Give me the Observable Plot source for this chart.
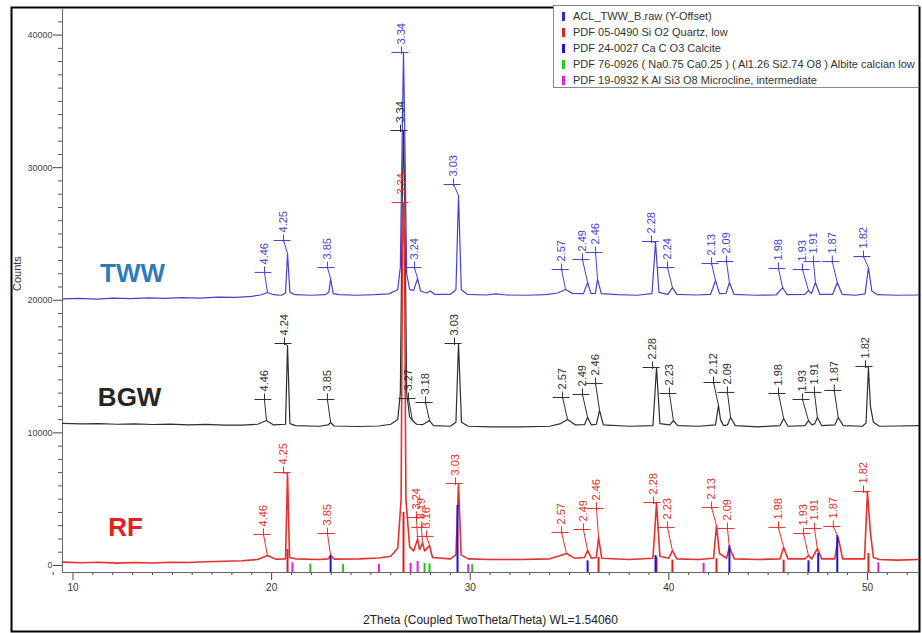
<!DOCTYPE html>
<html>
<head>
<meta charset="utf-8">
<script src="https://cdn.jsdelivr.net/npm/d3@7"></script>
<script src="https://cdn.jsdelivr.net/npm/@observablehq/plot@0.6"></script>
<style>
  body { margin: 0; background: #fff; }
  #wrap { position: relative; width: 922px; height: 633px; font-family: "Liberation Sans", Arial, sans-serif; }
  #legend { position: absolute; left: 553px; top: 5px; width: 366px; height: 83px; border: 1px solid #8a8a8a; background: #fff; font-size: 11px; color: #333; padding-top: 2px; box-sizing: border-box; overflow: hidden; }
  #legend .row { position: relative; height: 16px; line-height: 16px; padding-left: 19px; white-space: nowrap; }
  #legend .sw { position: absolute; left: 8px; top: 4px; width: 3px; height: 9px; }
</style>
</head>
<body>
<div id="wrap">
  <div id="chart"></div>
  <div id="legend"></div>
</div>
<script>
// ---------- scales / ticks ----------
const xDomain = [9.47, 52.57];
const yDomain = [-530, 41930];
const xMajor = [10, 20, 30, 40, 50];
const xMinor = [9, 11, 12, 13, 14, 15, 16, 17, 18, 19, 21, 22, 23, 24, 25, 26, 27, 28, 29, 31, 32, 33, 34, 35, 36, 37, 38, 39, 41, 42, 43, 44, 45, 46, 47, 48, 49, 51, 52];
const yMajor = [0, 10000, 20000, 30000, 40000];
const yMinor = d3.range(0, 42000, 1000).filter(v => v % 10000 !== 0);

// ---------- legend ----------
const legendNames = [
  "ACL_TWW_B.raw (Y-Offset)",
  "PDF 05-0490 Si O2 Quartz, low",
  "PDF 24-0027 Ca C O3 Calcite",
  "PDF 76-0926 ( Na0.75 Ca0.25 ) ( Al1.26 Si2.74 O8 ) Albite calcian low",
  "PDF 19-0932 K Al Si3 O8 Microcline, intermediate"
];
const legendColors = ["#2b2bd6", "#e0201c", "#1414e6", "#22d022", "#e020e0"];

// ---------- sample names ----------
const sampleNames = ["TWW", "BGW", "RF"];
const sampleX = [13.0, 12.85, 12.64];
const sampleY = [22020, 12670, 2870];
const sampleColors = ["#2f7cbc", "#262626", "#e5201c"];

// ---------- traces [2theta, counts] ----------
const twwTrace = [[9.47,20100],[10.3,20150],[11.2,20080],[12.0,20160],[12.9,20120],[13.8,20180],[14.6,20140],[15.5,20200],[16.4,20170],[17.3,20240],[18.2,20220],[19.0,20300],[19.45,20400],[19.79,20590],[20.1,20420],[20.5,20380],[20.7,20550],[20.8,23530],[20.92,20600],[21.2,20420],[22.0,20380],[22.7,20420],[22.88,20600],[22.97,21640],[23.1,20500],[23.4,20420],[24.3,20380],[25.2,20420],[25.9,20480],[26.35,20800],[26.48,22500],[26.58,33000],[26.64,38690],[26.7,33000],[26.8,22000],[26.95,20800],[27.15,20750],[27.35,21640],[27.5,20700],[27.8,20550],[28.0,20700],[28.2,20450],[29.0,20450],[29.28,20800],[29.41,27900],[29.55,20800],[29.85,20450],[30.8,20400],[31.3,20480],[31.8,20400],[32.8,20380],[33.8,20420],[34.4,20550],[34.8,20810],[35.15,20520],[35.7,20500],[35.91,21340],[36.08,20500],[36.3,20520],[36.41,21570],[36.6,20500],[37.4,20420],[38.4,20380],[39.15,20500],[39.33,24360],[39.5,20600],[39.95,20450],[40.18,20960],[40.4,20450],[41.4,20400],[42.1,20450],[42.35,21490],[42.55,20500],[42.88,20520],[43.05,21340],[43.28,20450],[44.4,20380],[45.4,20400],[45.73,20960],[45.95,20420],[46.85,20450],[47.03,20740],[47.18,20500],[47.38,21340],[47.6,20450],[48.25,20450],[48.48,21340],[48.72,20450],[49.4,20380],[49.88,20480],[50.05,22470],[50.22,20700],[50.5,20420],[51.5,20380],[52.57,20400]];

const bgwTrace = [[9.47,10720],[10.4,10680],[11.3,10700],[12.2,10650],[13.1,10680],[14.0,10630],[14.9,10660],[15.8,10610],[16.7,10640],[17.6,10590],[18.5,10580],[19.3,10650],[19.74,10930],[20.1,10600],[20.7,10650],[20.8,16590],[20.92,10700],[21.2,10550],[22.4,10500],[22.85,10600],[22.97,10780],[23.15,10520],[24.4,10480],[25.4,10520],[26.0,10650],[26.35,11000],[26.48,13000],[26.58,28000],[26.64,32800],[26.7,28000],[26.8,13000],[26.95,11200],[27.09,10930],[27.3,10650],[27.6,10620],[27.95,10930],[28.15,10550],[29.0,10500],[29.28,10800],[29.41,16740],[29.56,10800],[29.9,10500],[31.0,10450],[32.5,10460],[34.0,10500],[34.55,10700],[34.9,11010],[35.3,10600],[35.75,10620],[35.91,11160],[36.1,10600],[36.35,10650],[36.51,11690],[36.7,10600],[38.0,10500],[39.2,10550],[39.38,14930],[39.55,10700],[40.05,10600],[40.23,10930],[40.45,10550],[41.5,10500],[42.35,10600],[42.5,12070],[42.6,11000],[42.75,10550],[42.95,10600],[43.11,11160],[43.35,10550],[44.5,10460],[45.6,10550],[45.78,11090],[46.0,10500],[46.85,10550],[47.03,10930],[47.2,10600],[47.35,10700],[47.48,11160],[47.7,10550],[48.35,10600],[48.53,11160],[48.78,10550],[49.75,10500],[49.93,10750],[50.05,14930],[50.15,12000],[50.3,10800],[50.6,10500],[51.5,10520],[52.57,10540]];

const rfTrace = [[9.47,250],[10.4,200],[11.3,240],[12.2,180],[13.1,220],[14.0,190],[14.9,240],[15.8,220],[16.7,280],[17.6,320],[18.5,360],[19.3,450],[19.79,750],[20.2,480],[20.7,500],[20.8,6940],[20.9,600],[21.2,500],[22.4,450],[22.85,500],[22.97,750],[23.15,480],[24.4,500],[25.4,560],[26.0,700],[26.35,1300],[26.52,5000],[26.59,24000],[26.64,27370],[26.69,24000],[26.76,5000],[26.95,1400],[27.15,1100],[27.35,2000],[27.45,1200],[27.6,1700],[27.7,1100],[27.95,1500],[28.1,600],[29.0,500],[29.28,800],[29.41,6180],[29.54,800],[29.9,500],[31.0,450],[32.5,450],[34.0,500],[34.55,750],[34.85,900],[35.25,550],[35.75,600],[35.91,1130],[36.1,550],[36.35,600],[36.46,2110],[36.62,550],[38.0,450],[39.2,550],[39.38,4680],[39.55,700],[40.0,550],[40.18,1130],[40.4,500],[41.5,450],[42.25,550],[42.4,3000],[42.55,900],[42.9,550],[43.05,1360],[43.3,500],[44.5,450],[45.6,500],[45.78,1360],[46.0,500],[46.85,500],[47.03,750],[47.2,500],[47.48,1280],[47.7,500],[48.35,500],[48.53,2110],[48.75,500],[49.85,500],[50.0,5500],[50.15,2500],[50.3,600],[50.6,450],[51.5,400],[52.57,450]];

// ---------- peak labels [d-spacing, peak 2theta, peak counts, label 2theta, label counts] ----------
const twwLabels = [["4.46",19.79,20590,19.64,22100],["4.25",20.8,23530,20.6,24510],["3.85",22.97,21640,22.81,22470],["3.34",26.64,38690,26.54,38690],["3.24",27.35,21640,27.19,22470],["3.03",29.41,27900,29.16,28730],["2.57",34.8,20810,34.6,22320],["2.49",35.91,21340,35.65,23080],["2.46",36.41,21570,36.31,23600],["2.28",39.33,24360,39.13,24430],["2.24",40.18,20960,39.93,22470],["2.13",42.35,21490,42.15,22770],["2.09",43.05,21340,42.9,22920],["1.98",45.73,20960,45.52,22400],["1.93",47.03,20740,46.73,22320],["1.91",47.38,21340,47.28,22920],["1.87",48.48,21340,48.23,22920],["1.82",50.05,22470,49.8,23300]];

const bgwLabels = [["4.46",19.74,10930,19.64,12520],["4.24",20.8,16590,20.65,16740],["3.85",22.97,10780,22.81,12520],["3.34",26.64,32800,26.49,32800],["3.27",27.09,10930,26.89,12590],["3.18",27.95,10930,27.75,12290],["3.03",29.41,16740,29.21,16740],["2.57",34.9,11010,34.65,12670],["2.49",35.91,11160,35.65,12900],["2.46",36.51,11690,36.31,13720],["2.28",39.38,14930,39.18,14930],["2.23",40.23,10930,40.03,12970],["2.12",42.5,12070,42.25,13800],["2.09",43.11,11160,42.95,13050],["1.98",45.78,11090,45.52,12970],["1.93",47.03,10930,46.73,12520],["1.91",47.48,11160,47.33,13050],["1.87",48.53,11160,48.33,13200],["1.82",50.05,14930,49.9,15010]];

const rfLabels = [["4.46",19.79,750,19.59,2340],["4.25",20.8,6940,20.6,7010],["3.85",22.97,750,22.81,2410],["3.34",26.64,27370,26.54,27370],["3.24",27.35,2000,27.29,3620],["3.19",27.6,1700,27.54,2870],["3.16",27.95,1500,27.8,2190],["3.03",29.41,6180,29.26,6180],["2.57",34.85,900,34.6,2490],["2.49",35.91,1130,35.7,2710],["2.46",36.46,2110,36.36,4300],["2.28",39.38,4680,39.23,4750],["2.23",40.18,1130,39.93,2870],["2.13",42.4,3000,42.15,4370],["2.09",43.05,1360,42.95,2790],["1.98",45.78,1360,45.52,2870],["1.93",47.03,750,46.78,2410],["1.91",47.48,1280,47.33,2790],["1.87",48.53,2110,48.28,2940],["1.82",50.0,5500,49.8,5580]];

// ---------- reference sticks [2theta, counts] ----------
const quartzSticks = [[20.8,1200],[26.64,4000],[36.46,600],[39.38,600],[40.18,400],[42.4,500],[45.78,400],[50.05,900]];
const calciteSticks = [[22.97,750],[29.36,4530],[35.91,350],[39.33,750],[43.05,1500],[47.03,350],[47.52,900],[48.48,2260]];
const albiteSticks = [[21.95,100],[23.6,60],[27.7,150],[27.95,120],[30.1,60]];
const microclineSticks = [[21.05,200],[25.4,80],[27.0,150],[27.35,300],[29.9,60],[41.75,150],[50.55,200]];

// ---------- colours ----------
const twwColor = "#4343d2";
const bgwColor = "#2e2e2e";
const rfColor = "#e8302c";

// custom symbol: EVA-style peak marker (bar + tick)
const peakMarker = {
  draw(ctx) {
    ctx.moveTo(-10, 0); ctx.lineTo(7, 0);
    ctx.moveTo(0, 1.5); ctx.lineTo(0, -6);
  }
};

function labelMarks(rows, color) {
  return [
    Plot.link(rows, {x1: d => d[3], y1: d => d[4], x2: d => d[1], y2: d => d[2], stroke: color, strokeWidth: 1}),
    Plot.dot(rows, {x: d => d[3], y: d => d[4], symbol: peakMarker, fill: "none", stroke: color, strokeWidth: 1}),
    Plot.text(rows, {x: d => d[3], y: d => d[4], text: d => d[0], rotate: -90, textAnchor: "start", dy: -8, fill: color, fontSize: 11})
  ];
}

function stickMarks(rows, color) {
  return Plot.ruleX(rows, {x: d => d[0], y1: yDomain[0], y2: d => d[1], stroke: color, strokeWidth: 2});
}

const samples = sampleNames.map((n, i) => ({n, x: sampleX[i], y: sampleY[i], c: sampleColors[i]}));

const chart = Plot.plot({
  width: 922,
  height: 633,
  marginLeft: 62,
  marginRight: 4,
  marginTop: 9,
  marginBottom: 61,
  style: {fontFamily: "'Liberation Sans', Arial, sans-serif", background: "#fff", color: "#333"},
  x: {domain: xDomain},
  y: {domain: yDomain},
  marks: [
    Plot.frame({insetLeft: -51, insetTop: -2, insetRight: -1, insetBottom: -59, stroke: "#000", strokeWidth: 2}),
    Plot.axisX({ticks: xMinor, tickSize: 3, tickFormat: () => "", label: null, stroke: "#444"}),
    Plot.axisX({ticks: xMajor, tickSize: 8, tickPadding: 3, fontSize: 10, label: null, stroke: "#444", fill: "#333"}),
    Plot.axisY({ticks: yMinor, tickSize: 4, tickFormat: () => "", label: null, stroke: "#555"}),
    Plot.axisY({ticks: yMajor, tickSize: 9, tickPadding: 1, fontSize: 9, tickFormat: d => String(d), label: null, stroke: "#444", fill: "#444"}),
    Plot.ruleX([xDomain[0]], {stroke: "#666", strokeWidth: 1}),
    Plot.ruleY([yDomain[0]], {stroke: "#666", strokeWidth: 1}),
    Plot.text(["Counts"], {frameAnchor: "left", dx: -45, rotate: -90, fontSize: 11, fill: "#333"}),
    Plot.text(["2Theta (Coupled TwoTheta/Theta) WL=1.54060"], {frameAnchor: "bottom", dy: 51, fontSize: 12, fill: "#222"}),
    Plot.line(bgwTrace, {x: d => d[0], y: d => d[1], stroke: bgwColor, strokeWidth: 1.2}),
    Plot.line(twwTrace, {x: d => d[0], y: d => d[1], stroke: twwColor, strokeWidth: 1.2}),
    Plot.line(rfTrace, {x: d => d[0], y: d => d[1], stroke: rfColor, strokeWidth: 1.6}),
    stickMarks(quartzSticks, "#e0201c"),
    stickMarks(calciteSticks, "#1414e6"),
    stickMarks(albiteSticks, "#22c022"),
    stickMarks(microclineSticks, "#e020e0"),
    ...labelMarks(bgwLabels, bgwColor),
    ...labelMarks(twwLabels, twwColor),
    ...labelMarks(rfLabels, rfColor),
    Plot.text(samples, {x: "x", y: "y", text: "n", fill: "c", fontSize: 26, fontWeight: "bold"})
  ]
});
document.getElementById("chart").appendChild(chart);

// legend
const legend = d3.select("#legend");
legendNames.forEach((name, i) => {
  const row = legend.append("div").attr("class", "row");
  row.append("span").attr("class", "sw").style("background", legendColors[i]);
  row.append("span").text(name);
});
</script>
</body>
</html>
